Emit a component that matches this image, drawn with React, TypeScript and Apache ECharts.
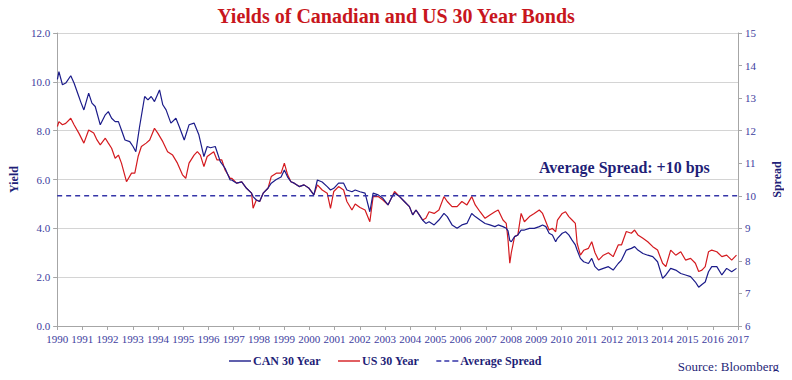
import React, { useEffect, useRef } from "react";
import * as echarts from "echarts";

const title = "Yields of Canadian and US 30 Year Bonds";
const annotation = "Average Spread: +10 bps";
const sourceText = "Source: Bloomberg";

const yearTicks = [1990, 2017];
const yieldRange = [0, 12, 2];
const spreadRange = [6, 15, 1];
const averageSpread = 10;

const canDates = [
  1990.01, 1990.07, 1990.21, 1990.34, 1990.54, 1990.67, 1990.86, 1990.93, 1991.06, 1991.25,
  1991.38, 1991.51, 1991.71, 1991.91, 1992.03, 1992.16, 1992.3, 1992.43, 1992.55, 1992.69,
  1992.88, 1993.01, 1993.12, 1993.27, 1993.47, 1993.6, 1993.73, 1993.86, 1994.06, 1994.19,
  1994.32, 1994.51, 1994.71, 1994.84, 1995.04, 1995.23, 1995.43, 1995.62, 1995.82, 1995.95,
  1996.08, 1996.27, 1996.47, 1996.66, 1996.86, 1996.92, 1997.12, 1997.32, 1997.51, 1997.71,
  1997.77, 1997.9, 1998.03, 1998.17, 1998.36, 1998.49, 1998.69, 1998.88, 1999.01, 1999.14,
  1999.27, 1999.4, 1999.6, 1999.79, 1999.99, 2000.18, 2000.32, 2000.51, 2000.71, 2000.84,
  2000.97, 2001.16, 2001.36, 2001.49, 2001.69, 2001.82, 2002.01, 2002.21, 2002.4, 2002.53,
  2002.73, 2002.92, 2003.12, 2003.25, 2003.38, 2003.58, 2003.77, 2003.97, 2004.1, 2004.23,
  2004.36, 2004.49, 2004.62, 2004.75, 2004.95, 2005.14, 2005.34, 2005.47, 2005.66, 2005.86,
  2006.05, 2006.25, 2006.44, 2006.58, 2006.77, 2006.97, 2007.16, 2007.36, 2007.49, 2007.68,
  2007.81, 2007.88, 2007.95, 2008.01, 2008.14, 2008.27, 2008.4, 2008.53, 2008.73, 2008.92,
  2009.12, 2009.25, 2009.38, 2009.51, 2009.64, 2009.77, 2009.84, 2010.03, 2010.16, 2010.29,
  2010.42, 2010.55, 2010.62, 2010.75, 2010.88, 2011.07, 2011.2, 2011.33, 2011.47, 2011.66,
  2011.86, 2012.05, 2012.25, 2012.38, 2012.57, 2012.77, 2012.9, 2013.03, 2013.23, 2013.42,
  2013.62, 2013.81, 2014.01, 2014.14, 2014.33, 2014.53, 2014.73, 2014.92, 2015.12, 2015.31,
  2015.44, 2015.57, 2015.7, 2015.83, 2015.96, 2016.16, 2016.36, 2016.55, 2016.75, 2016.94,
];
const canValues = [
  10.1, 10.42, 9.88, 9.95, 10.25, 9.95, 9.4, 9.19, 8.85, 9.54,
  9.13, 8.99, 8.24, 8.65, 8.78, 8.51, 8.37, 8.37, 8.03, 7.62,
  7.55, 7.35, 7.14, 8.17, 9.4, 9.26, 9.4, 9.19, 9.67, 9.06,
  8.85, 8.31, 8.51, 8.17, 7.62, 8.24, 8.31, 7.83, 6.94, 7.35,
  7.3, 7.35, 6.73, 6.46, 5.98, 5.98, 5.85, 5.9, 5.64, 5.44,
  5.3, 5.16, 5.1, 5.44, 5.64, 5.85, 6.0, 6.1, 6.39, 6.1,
  5.91, 5.85, 5.71, 5.78, 5.64, 5.37, 5.98, 5.9, 5.71, 5.57,
  5.64, 5.85, 5.85, 5.57, 5.5, 5.57, 5.5, 5.44, 4.68, 5.44,
  5.37, 5.23, 4.96, 5.23, 5.44, 5.3, 5.1, 4.89, 4.55, 4.75,
  4.55, 4.34, 4.2, 4.27, 4.14, 4.34, 4.61, 4.48, 4.14, 4.0,
  4.14, 4.2, 4.61, 4.48, 4.34, 4.2, 4.14, 4.07, 4.14, 4.07,
  4.0, 3.9, 3.5, 3.45, 3.66, 3.73, 3.93, 3.93, 4.0, 4.0,
  4.07, 4.14, 4.07, 3.8, 3.73, 3.45, 3.59, 3.8, 3.86, 3.73,
  3.52, 3.32, 3.11, 2.77, 2.63, 2.56, 2.77, 2.43, 2.29, 2.36,
  2.43, 2.29, 2.56, 2.7, 3.11, 3.18, 3.25, 3.11, 2.97, 2.9,
  2.84, 2.63, 1.95, 2.09, 2.36, 2.29, 2.15, 2.09, 2.02, 1.8,
  1.59, 1.7, 1.8, 2.22, 2.43, 2.43, 2.09, 2.36, 2.22, 2.36,
];

const usDates = [
  1990.01, 1990.07, 1990.21, 1990.34, 1990.54, 1990.67, 1990.86, 1991.06, 1991.25, 1991.45,
  1991.58, 1991.71, 1991.91, 1992.03, 1992.16, 1992.3, 1992.43, 1992.55, 1992.75, 1992.95,
  1993.08, 1993.21, 1993.34, 1993.53, 1993.67, 1993.86, 1993.99, 1994.19, 1994.38, 1994.58,
  1994.77, 1994.97, 1995.1, 1995.23, 1995.43, 1995.56, 1995.68, 1995.82, 1995.95, 1996.21,
  1996.34, 1996.53, 1996.66, 1996.86, 1996.92, 1997.12, 1997.32, 1997.51, 1997.71, 1997.77,
  1997.9, 1998.03, 1998.17, 1998.36, 1998.49, 1998.69, 1998.88, 1999.01, 1999.14, 1999.27,
  1999.4, 1999.6, 1999.79, 1999.99, 2000.18, 2000.32, 2000.51, 2000.71, 2000.84, 2000.97,
  2001.16, 2001.36, 2001.49, 2001.69, 2001.82, 2002.01, 2002.21, 2002.4, 2002.53, 2002.73,
  2002.92, 2003.12, 2003.25, 2003.38, 2003.58, 2003.77, 2003.97, 2004.1, 2004.23, 2004.36,
  2004.49, 2004.62, 2004.75, 2004.95, 2005.14, 2005.34, 2005.47, 2005.66, 2005.86, 2006.05,
  2006.25, 2006.44, 2006.58, 2006.77, 2006.97, 2007.16, 2007.36, 2007.49, 2007.68, 2007.81,
  2007.88, 2007.95, 2008.01, 2008.14, 2008.27, 2008.4, 2008.53, 2008.73, 2008.92, 2009.12,
  2009.25, 2009.38, 2009.51, 2009.64, 2009.77, 2009.84, 2010.03, 2010.16, 2010.29, 2010.42,
  2010.55, 2010.62, 2010.75, 2010.88, 2011.07, 2011.2, 2011.33, 2011.47, 2011.66, 2011.86,
  2012.05, 2012.25, 2012.38, 2012.57, 2012.77, 2012.9, 2013.03, 2013.23, 2013.42, 2013.62,
  2013.81, 2014.01, 2014.14, 2014.33, 2014.53, 2014.73, 2014.92, 2015.12, 2015.31, 2015.44,
  2015.57, 2015.7, 2015.83, 2015.96, 2016.16, 2016.36, 2016.55, 2016.75, 2016.94,
];
const usValues = [
  8.17, 8.37, 8.24, 8.3, 8.51, 8.24, 7.9, 7.49, 8.03, 7.9,
  7.62, 7.42, 7.69, 7.49, 7.28, 6.87, 7.0, 6.67, 5.91, 6.26,
  6.26, 6.94, 7.35, 7.49, 7.62, 8.1, 7.9, 7.55, 7.14, 7.0,
  6.67, 6.19, 6.05, 6.67, 7.0, 7.14, 7.0, 6.53, 6.94, 7.14,
  6.8, 6.8, 6.39, 6.05, 6.05, 5.85, 5.9, 5.64, 5.44, 4.82,
  5.16, 5.1, 5.44, 5.64, 6.12, 6.26, 6.26, 6.67, 6.19, 5.91,
  5.85, 5.71, 5.78, 5.64, 5.37, 5.78, 5.57, 5.44, 4.82, 5.51,
  5.71, 5.57, 5.1, 4.75, 5.0, 4.85, 4.75, 4.27, 5.3, 5.3,
  5.16, 4.96, 5.23, 5.51, 5.3, 5.1, 4.89, 4.55, 4.75, 4.55,
  4.34, 4.41, 4.68, 4.61, 4.75, 5.3, 5.1, 4.89, 4.89, 5.1,
  4.96, 5.3, 4.96, 4.68, 4.41, 4.55, 4.68, 4.75, 4.34, 4.2,
  3.52, 2.57, 3.0, 3.66, 3.73, 4.61, 4.27, 4.48, 4.61, 4.75,
  4.61, 4.27, 3.93, 4.0, 3.86, 4.34, 4.61, 4.68, 4.48, 4.34,
  4.2, 3.39, 2.9, 3.1, 3.18, 3.45, 3.0, 2.7, 2.9, 3.0,
  2.84, 3.32, 3.32, 3.87, 3.8, 3.93, 3.73, 3.59, 3.45, 3.25,
  3.11, 2.57, 2.43, 3.11, 2.9, 3.04, 2.7, 2.77, 2.57, 2.23,
  2.29, 2.43, 3.04, 3.11, 3.04, 2.84, 2.9, 2.7, 2.9,
];

const seriesNames = ["CAN 30 Year", "US 30 Year", "Average Spread"];

const SERIF = "'Liberation Serif', 'Times New Roman', serif";
const NAVY = "#1f1f78";
const TICK_BLUE = "#3d3d9e";
const CAN_COLOR = "#1c1c8a";
const US_COLOR = "#d41a1f";
const AVG_COLOR = "#3535a8";

const SOLID_ICON = "path://M0,0h22v1.4h-22z";
const DASH_ICON = "path://M0,0h5v1.4h-5z M8,0h5v1.4h-5z M16,0h6v1.4h-6z";

export default function App() {
  const ref = useRef<HTMLDivElement>(null);

  useEffect(() => {
    if (!ref.current) return;
    const chart = echarts.init(ref.current, null, { renderer: "svg" });

    const canData = canDates.map((d, i) => [d, canValues[i]]);
    const usData = usDates.map((d, i) => [d, usValues[i]]);
    const avgData = [
      [yearTicks[0], averageSpread],
      [yearTicks[1], averageSpread],
    ];

    const axisLine = { show: true, lineStyle: { color: "#a6a6a6", width: 1 } };
    const axisTick = { show: true, length: 4, lineStyle: { color: "#a6a6a6" } };
    const axisLabel = { fontFamily: SERIF, fontSize: 11, color: TICK_BLUE };

    chart.setOption({
      animation: false,
      backgroundColor: "#ffffff",
      title: {
        text: title,
        left: "center",
        top: 1,
        textStyle: {
          fontFamily: SERIF,
          fontWeight: "bold",
          fontSize: 20,
          color: "#c8161d",
        },
      },
      grid: { left: 48, right: 54, top: 33, bottom: 54 },
      legend: {
        data: [
          { name: seriesNames[0], icon: SOLID_ICON },
          { name: seriesNames[1], icon: SOLID_ICON },
          { name: seriesNames[2], icon: DASH_ICON },
        ],
        left: 224,
        top: 350,
        itemWidth: 22,
        itemHeight: 1.4,
        itemGap: 17,
        textStyle: {
          fontFamily: SERIF,
          fontWeight: "bold",
          fontSize: 12,
          color: NAVY,
          padding: [0, 0, 0, -3],
        },
      },
      xAxis: {
        type: "value",
        min: yearTicks[0],
        max: yearTicks[1],
        interval: 1,
        axisLine,
        axisTick,
        splitLine: { show: false },
        axisLabel: { ...axisLabel, margin: 7, formatter: (v: number) => String(v) },
      },
      yAxis: [
        {
          type: "value",
          min: yieldRange[0],
          max: yieldRange[1],
          interval: yieldRange[2],
          name: "Yield",
          nameLocation: "middle",
          nameRotate: 90,
          nameGap: 34,
          nameTextStyle: { fontFamily: SERIF, fontWeight: "bold", fontSize: 12, color: NAVY },
          axisLine,
          axisTick,
          splitLine: { show: true, lineStyle: { color: "#d4d4d4", width: 1 } },
          axisLabel: { ...axisLabel, margin: 7, formatter: (v: number) => v.toFixed(1) },
        },
        {
          type: "value",
          min: spreadRange[0],
          max: spreadRange[1],
          interval: spreadRange[2],
          position: "right",
          name: "Spread",
          nameLocation: "middle",
          nameRotate: 90,
          nameGap: 33,
          nameTextStyle: { fontFamily: SERIF, fontWeight: "bold", fontSize: 12, color: NAVY },
          axisLine,
          axisTick,
          splitLine: { show: false },
          axisLabel: { ...axisLabel, margin: 7 },
        },
      ],
      series: [
        {
          name: seriesNames[0],
          type: "line",
          data: canData,
          yAxisIndex: 0,
          showSymbol: false,
          symbol: "none",
          color: CAN_COLOR,
          lineStyle: { color: CAN_COLOR, width: 1.2 },
          z: 3,
        },
        {
          name: seriesNames[1],
          type: "line",
          data: usData,
          yAxisIndex: 0,
          showSymbol: false,
          symbol: "none",
          color: US_COLOR,
          lineStyle: { color: US_COLOR, width: 1.2 },
          z: 2,
        },
        {
          name: seriesNames[2],
          type: "line",
          data: avgData,
          yAxisIndex: 1,
          showSymbol: false,
          symbol: "none",
          color: AVG_COLOR,
          lineStyle: { color: AVG_COLOR, width: 1.5, type: [5, 4] },
          z: 4,
        },
      ],
      graphic: [
        {
          type: "text",
          left: 539,
          top: 159,
          style: {
            text: annotation,
            font: `bold 16px ${SERIF}`,
            fill: NAVY,
          },
        },
        {
          type: "text",
          right: 13,
          top: 360,
          style: {
            text: sourceText,
            font: `13px ${SERIF}`,
            fill: NAVY,
          },
        },
      ],
    });

    return () => chart.dispose();
  }, []);

  return <div ref={ref} style={{ width: 792, height: 380, margin: -8 }} />;
}
